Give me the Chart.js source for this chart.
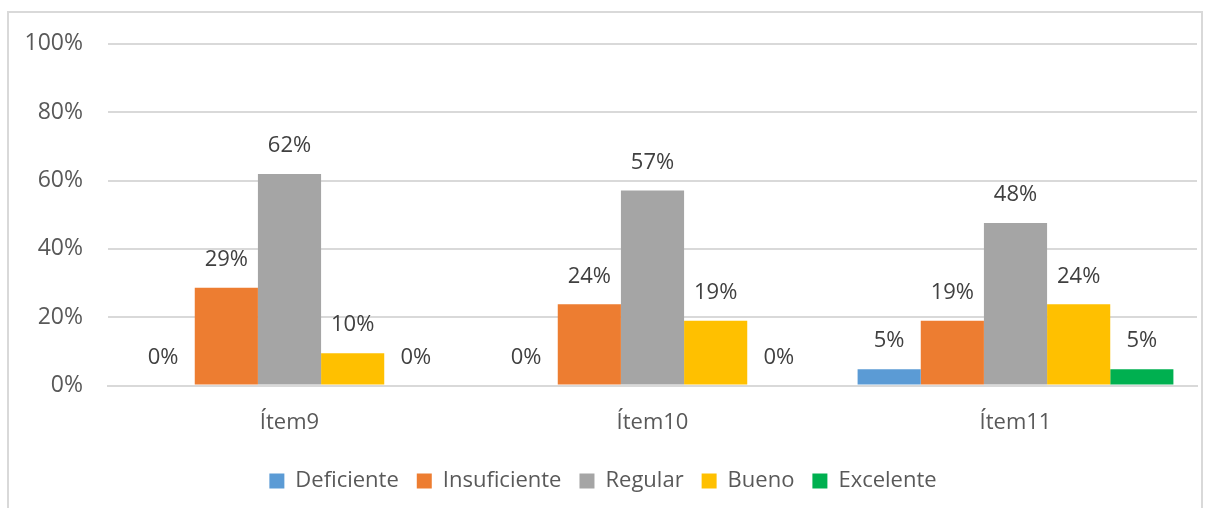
<!DOCTYPE html>
<html>
<head>
<meta charset="utf-8">
<script src="https://cdn.jsdelivr.net/npm/chart.js@4"></script>
<style>
  body { margin: 0; background: #fff; }
  #borda { position: absolute; left: 7px; top: 11px; width: 1196px; height: 500px; border: 2px solid #d9d9d9; box-sizing: border-box; }
  #wrap { position: absolute; left: 9px; top: 5px; width: 1192px; height: 504px; }
  canvas { display: block; }
</style>
</head>
<body>
<div id="borda"></div>
<div id="wrap"><canvas id="grafico"></canvas></div>
<script>
const categorias = ['Ítem9', 'Ítem10', 'Ítem11'];
const deficiente = [0, 0, 4.8];
const insuficiente = [28.6, 23.8, 19.0];
const regular = [61.9, 57.1, 47.6];
const bueno = [9.5, 19.0, 23.8];
const excelente = [0, 0, 4.8];
const etiquetas = [
    ['0%', '0%', '5%'],
    ['29%', '24%', '19%'],
    ['62%', '57%', '48%'],
    ['10%', '19%', '24%'],
    ['0%', '0%', '5%']
];

const fonte = '"Open Sans", "Noto Sans", sans-serif';

const rotulos = {
    id: 'rotulos',
    afterDatasetsDraw(chart) {
        const ctx = chart.ctx;
        ctx.save();
        ctx.font = '22px ' + fonte;
        ctx.fillStyle = '#404040';
        ctx.textAlign = 'center';
        ctx.textBaseline = 'bottom';
        chart.data.datasets.forEach((ds, i) => {
            chart.getDatasetMeta(i).data.forEach((bar, j) => {
                ctx.fillText(etiquetas[i][j], bar.x, bar.y - 17);
            });
        });
        ctx.restore();
    }
};

const ctx = document.getElementById('grafico');

new Chart(ctx, {
    type: 'bar',
    data: {
        labels: categorias,
        datasets: [
            { label: 'Deficiente', data: deficiente, backgroundColor: '#5b9bd5' },
            { label: 'Insuficiente', data: insuficiente, backgroundColor: '#ed7d31' },
            { label: 'Regular', data: regular, backgroundColor: '#a5a5a5' },
            { label: 'Bueno', data: bueno, backgroundColor: '#ffc000' },
            { label: 'Excelente', data: excelente, backgroundColor: '#00b050' }
        ]
    },
    options: {
        responsive: true,
        maintainAspectRatio: false,
        animation: false,
        datasets: {
            bar: { categoryPercentage: 0.87, barPercentage: 1.0 }
        },
        layout: { padding: { left: 0, right: 4, top: 1, bottom: 7 } },
        plugins: {
            legend: {
                position: 'bottom',
                labels: {
                    color: '#595959',
                    font: { family: fonte, size: 22 },
                    boxWidth: 15,
                    boxHeight: 15,
                    padding: 18
                }
            },
            tooltip: { enabled: false }
        },
        scales: {
            x: {
                grid: { display: false },
                border: { color: '#d9d9d9', width: 2 },
                ticks: { color: '#595959', font: { family: fonte, size: 22 }, padding: 16 }
            },
            y: {
                min: 0,
                max: 100,
                afterFit: s => { s.width = 99; },
                ticks: {
                    stepSize: 20,
                    color: '#595959',
                    font: { family: fonte, size: 23 },
                    padding: 25,
                    callback: v => v + '%'
                },
                grid: { color: '#d9d9d9', lineWidth: 2, drawTicks: false },
                border: { display: false }
            }
        }
    },
    plugins: [rotulos]
});
</script>
</body>
</html>
